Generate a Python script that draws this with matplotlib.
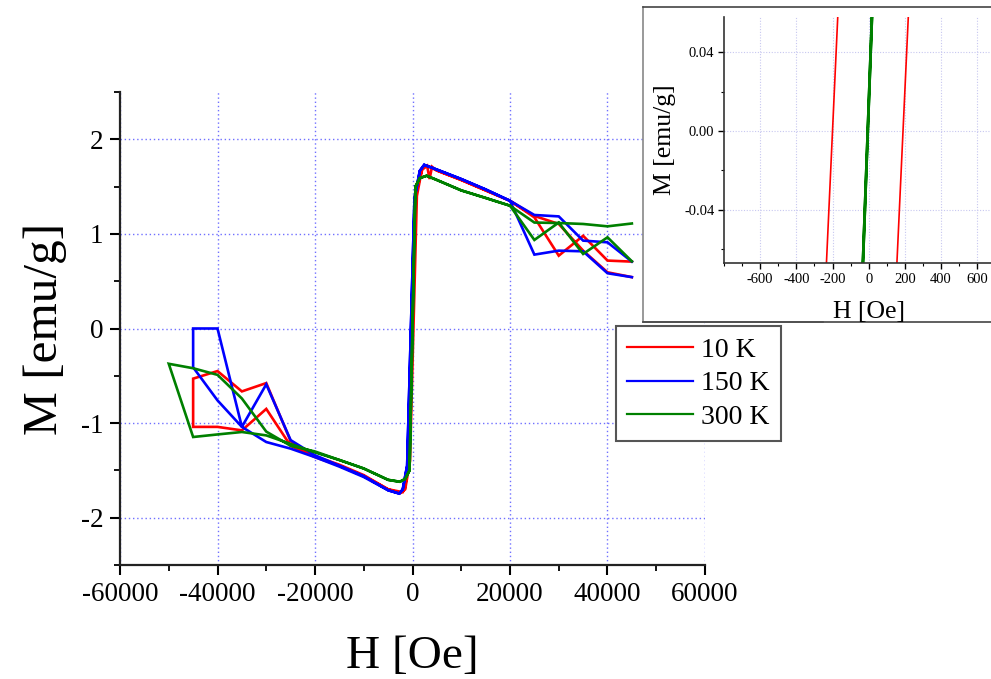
import matplotlib
matplotlib.use("Agg")
import matplotlib.pyplot as plt
from matplotlib.ticker import MultipleLocator, FormatStrFormatter
from matplotlib.transforms import Bbox, TransformedBbox

plt.rcParams['font.family'] = ['Liberation Serif', 'DejaVu Serif']
plt.rcParams['axes.unicode_minus'] = False

# Magnetization loops M(H) at three temperatures (field in Oe, moment in emu/g)
h_10k = [45000, 40000, 35000, 30000, 25000, 20000, 15000, 10000, 5000, 4000, 3500, 3000,
         2000, 500, -900, -1500, -2000, -5000, -10000, -15000, -20000, -25000, -30000,
         -35000, -40000, -45000, -45000, -40000, -35000, -30000, -25000, -20000, -15000,
         -10000, -5000, -2500, -1500, -515, 895, 2000, 3000, 5000, 10000, 15000, 20000,
         25000, 30000, 35000, 40000, 45000]
m_10k = [0.543, 0.594, 0.823, 1.105, 1.19, 1.35, 1.46, 1.57, 1.67, 1.71, 1.58, 1.72,
         1.68, 1.40, -1.40, -1.68, -1.73, -1.70, -1.56, -1.45, -1.36, -1.24, -0.85,
         -1.077, -1.04, -1.04, -0.53, -0.45, -0.665, -0.577, -1.19, -1.35, -1.44,
         -1.55, -1.70, -1.74, -1.70, -1.40, 1.40, 1.70, 1.72, 1.67, 1.57, 1.46, 1.35,
         1.175, 0.77, 0.98, 0.718, 0.707]

h_150k = [45000, 40000, 35000, 30000, 25000, 20000, 15000, 10000, 5000, 2400, 1500, 400,
          -1100, -2000, -2700, -5000, -10000, -15000, -20000, -25000, -30000, -35000,
          -40000, -45000, -45000, -40000, -35000, -30000, -25000, -20000, -15000, -10000,
          -5000, -2700, -2000, -1100, 400, 1500, 2400, 5000, 10000, 15000, 20000, 25000,
          30000, 35000, 40000, 45000]
m_150k = [0.543, 0.584, 0.816, 0.823, 0.781, 1.35, 1.47, 1.58, 1.68, 1.73, 1.667, 1.37,
          -1.45, -1.70, -1.745, -1.71, -1.57, -1.46, -1.36, -1.27, -1.20, -1.04,
          -0.76, -0.41, 0.0, 0.0, -1.04, -0.59, -1.18, -1.34, -1.45, -1.56,
          -1.71, -1.745, -1.70, -1.45, 1.37, 1.667, 1.73, 1.68, 1.58, 1.47, 1.35, 1.20,
          1.185, 0.929, 0.911, 0.707]

h_300k = [45000, 40000, 35000, 30000, 25000, 20000, 15000, 10000, 5000, 2900, 1500, 595,
          -605, -1500, -2600, -5000, -10000, -15000, -20000, -25000, -30000, -35000,
          -40000, -45000, -50000, -45000, -40000, -35000, -30000, -25000, -20000, -15000,
          -10000, -5000, -2600, -1500, -605, 595, 1500, 2900, 5000, 10000, 15000, 20000,
          25000, 30000, 35000, 40000, 45000]
m_300k = [0.71, 0.964, 0.788, 1.12, 0.936, 1.298, 1.38, 1.46, 1.57, 1.615, 1.59, 1.50,
          -1.50, -1.59, -1.62, -1.60, -1.48, -1.39, -1.31, -1.22, -1.13, -1.094,
          -1.12, -1.147, -0.373, -0.42, -0.49, -0.74, -1.09, -1.24, -1.30, -1.39,
          -1.48, -1.60, -1.62, -1.59, -1.50, 1.50, 1.59, 1.615, 1.57, 1.46, 1.38, 1.298,
          1.12, 1.115, 1.105, 1.08, 1.11]

labels = ["10 K", "150 K", "300 K"]
colors = ["#ff0000", "#0000ff", "#008000"]

fig = plt.figure(figsize=(9.91, 6.79), dpi=100)

# ---- main panel ----
ax = fig.add_axes([0.1211, 0.1679, 0.5903, 0.6966], zorder=0)
for h, m, lab, c in zip([h_10k, h_150k, h_300k], [m_10k, m_150k, m_300k], labels, colors):
    ax.plot(h, m, color=c, lw=1.9, label=lab, solid_joinstyle='miter')

ax.set_xlim(-60000, 60000)
ax.set_ylim(-2.5, 2.5)
ax.xaxis.set_major_locator(MultipleLocator(20000))
ax.xaxis.set_minor_locator(MultipleLocator(10000))
ax.yaxis.set_major_locator(MultipleLocator(1))
ax.yaxis.set_minor_locator(MultipleLocator(0.5))
ax.grid(True, which='major', color='#7070ff', linestyle=(0, (1, 2)), lw=1.0)
ax.set_axisbelow(True)
for s in ['top', 'right']:
    ax.spines[s].set_visible(False)
for s in ['left', 'bottom']:
    ax.spines[s].set_linewidth(1.6)
    ax.spines[s].set_color('#222222')
ax.tick_params(which='major', direction='out', length=7, width=1.5, labelsize=19.5, pad=5)
ax.tick_params(which='minor', direction='out', length=4, width=1.3)
ax.set_xlabel("H [Oe]", fontsize=34, labelpad=21)
ax.set_ylabel("M [emu/g]", fontsize=35.5, labelpad=10)

leg = ax.legend(loc='upper left', bbox_to_anchor=(0.6216, 0.5199),
                bbox_transform=fig.transFigure, borderaxespad=0, fontsize=20,
                frameon=True, fancybox=False, framealpha=1, edgecolor='#555555',
                handlelength=2.37, handletextpad=0.29, borderpad=0.4, labelspacing=0.3)
leg.get_frame().set_linewidth(1.5)
for ln in leg.get_lines():
    ln.set_linewidth(1.6)

# ---- frame behind the inset ----
frame = fig.add_axes([0.6488, 0.5258, 0.3512, 0.4639], zorder=1)
frame.set_facecolor('white')
frame.set_xticks([])
frame.set_yticks([])
frame.spines['right'].set_visible(False)
frame.spines['top'].set_linestyle((0, (1, 1)))
frame.spines['bottom'].set_linestyle((0, (1, 1)))
frame.spines['left'].set_color('#888888')
frame.spines['top'].set_color('#444444')
frame.spines['bottom'].set_color('#444444')
for s in ['top', 'bottom', 'left']:
    frame.spines[s].set_linewidth(1.2)
frame.plot([0, 0.517], [0, 0], transform=frame.transAxes, color='#888888', lw=1.2,
           clip_on=False)

# ---- inset: low-field region ----
ins = fig.add_axes([0.7306, 0.6127, 0.2919, 0.3623], zorder=2)
ins.plot(h_10k, m_10k, color=colors[0], lw=1.2)
ins.plot(h_300k, m_300k, color=colors[2], lw=2.0)
ins.set_xlim(-800, 800)
ins.set_ylim(-0.067, 0.058)
ins.xaxis.set_minor_locator(MultipleLocator(100))
ins.yaxis.set_major_locator(MultipleLocator(0.04))
ins.yaxis.set_minor_locator(MultipleLocator(0.02))
ins.yaxis.set_major_formatter(FormatStrFormatter('%.2f'))
ins.set_xticks([-600, -400, -200, 0, 200, 400, 600])
ins.grid(True, which='major', color='#c8c8f0', linestyle=(0, (1, 1.5)), lw=0.8)
ins.set_axisbelow(True)
for s in ['top', 'right']:
    ins.spines[s].set_visible(False)
for s in ['left', 'bottom']:
    ins.spines[s].set_linewidth(1.2)
    ins.spines[s].set_color('#333333')
ins.tick_params(which='major', direction='out', length=4, width=1.0, labelsize=10.5, pad=3)
ins.tick_params(which='minor', direction='out', length=2.5, width=0.8)
ins.set_ylabel("M [emu/g]", fontsize=18.5, labelpad=6)
xl = ins.set_xlabel("H [Oe]", fontsize=18.5, labelpad=11)
xl.set_clip_box(TransformedBbox(Bbox([[0.6488, 0.5258], [1.0, 1.0]]), fig.transFigure))
xl.set_clip_on(True)

fig.savefig("out.png", dpi=100)
